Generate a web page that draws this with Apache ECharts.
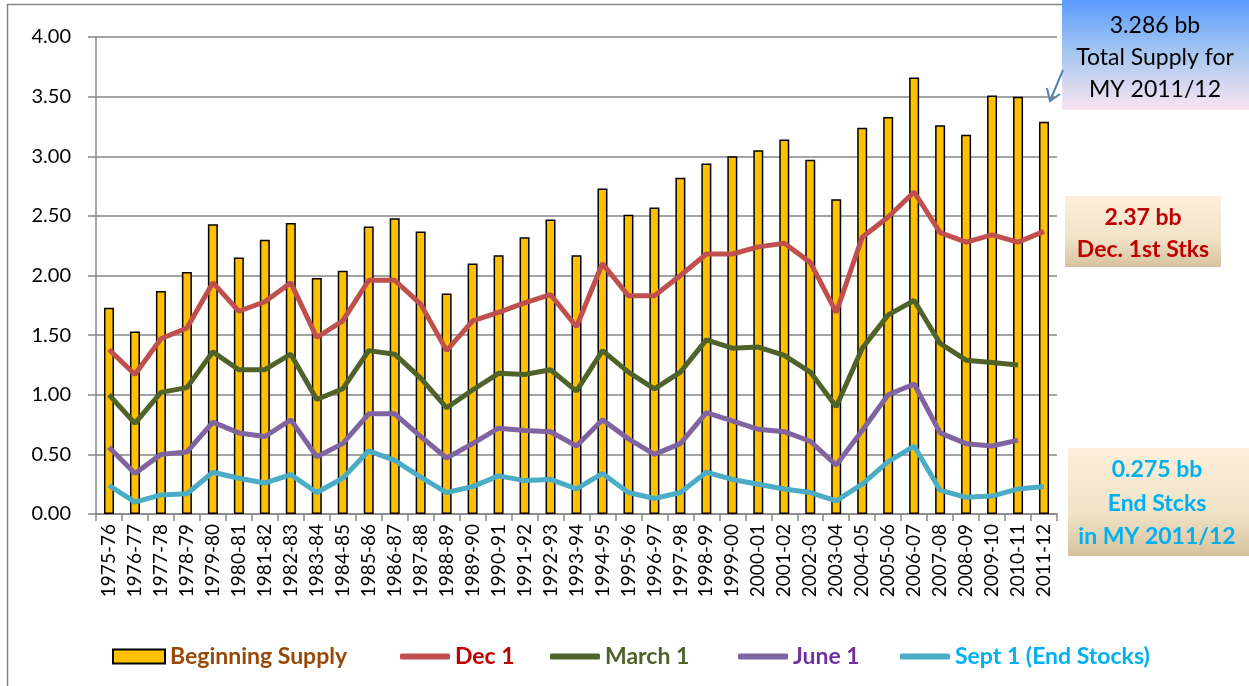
<!DOCTYPE html>
<html>
<head>
<meta charset="utf-8">
<script src="https://cdn.jsdelivr.net/npm/echarts@6/dist/echarts.min.js"></script>
<style>
html,body{margin:0;padding:0;background:#fff;}
#chart{width:1249px;height:686px;}
</style>
</head>
<body>
<div id="chart"></div>
<script>
var years = ['1975-76','1976-77','1977-78','1978-79','1979-80','1980-81','1981-82','1982-83','1983-84','1984-85',
  '1985-86','1986-87','1987-88','1988-89','1989-90','1990-91','1991-92','1992-93','1993-94','1994-95',
  '1995-96','1996-97','1997-98','1998-99','1999-00','2000-01','2001-02','2002-03','2003-04','2004-05',
  '2005-06','2006-07','2007-08','2008-09','2009-10','2010-11','2011-12'];

var beginSupply = [1.73,1.53,1.87,2.03,2.43,2.15,2.30,2.44,1.98,2.04,2.41,2.48,2.37,1.85,2.10,2.17,2.32,2.47,2.17,2.73,
  2.51,2.57,2.82,2.94,3.00,3.05,3.14,2.97,2.64,3.24,3.33,3.66,3.26,3.18,3.51,3.50,3.29];
var dec1 = [1.38,1.17,1.47,1.56,1.94,1.70,1.78,1.94,1.48,1.62,1.96,1.96,1.76,1.37,1.62,1.69,1.77,1.84,1.57,2.10,
  1.83,1.83,2.00,2.18,2.18,2.24,2.27,2.11,1.69,2.32,2.49,2.70,2.36,2.28,2.34,2.28,2.37];
var march1 = [1.00,0.76,1.02,1.06,1.36,1.21,1.21,1.34,0.96,1.05,1.37,1.34,1.14,0.89,1.04,1.18,1.17,1.21,1.03,1.37,
  1.19,1.05,1.19,1.46,1.39,1.40,1.33,1.19,0.90,1.39,1.67,1.79,1.43,1.29,1.27,1.25,null];
var june1 = [0.56,0.34,0.50,0.52,0.77,0.68,0.65,0.79,0.48,0.59,0.84,0.84,0.65,0.47,0.59,0.72,0.70,0.69,0.57,0.79,
  0.63,0.50,0.59,0.85,0.78,0.71,0.69,0.61,0.41,0.70,1.00,1.09,0.68,0.59,0.57,0.62,null];
var sept1 = [0.24,0.10,0.16,0.17,0.35,0.30,0.26,0.33,0.18,0.30,0.53,0.45,0.31,0.18,0.23,0.32,0.28,0.29,0.21,0.34,
  0.18,0.13,0.18,0.35,0.29,0.25,0.21,0.18,0.11,0.25,0.44,0.57,0.20,0.14,0.15,0.21,0.23];

var chart = echarts.init(document.getElementById('chart'));
var font = 'Lato, "Open Sans", sans-serif';

// one legend per item so each sits where it sits in the original
function legendItem(name, left, color, isLine) {
  return {
    left: left,
    top: 640,
    itemWidth: isLine ? 50 : 52,
    itemHeight: isLine ? 6 : 14,
    icon: isLine ? 'roundRect' : 'rect',
    selectedMode: false,
    textStyle: {fontFamily: font, fontSize: 23, fontWeight: 'bold', color: color},
    data: [name]
  };
}

var option = {
  backgroundColor: '#fff',
  animation: false,
  textStyle: {fontFamily: font},
  grid: {left: 96, right: 192, top: 37, bottom: 172},
  legend: [
    legendItem('Beginning Supply', 107, '#984807', false),
    legendItem('Dec 1', 395, '#C00000', true),
    legendItem('March 1', 545, '#4F6228', true),
    legendItem('June 1', 733, '#7030A0', true),
    legendItem('Sept 1 (End Stocks)', 895, '#00B0F0', true)
  ],
  xAxis: {
    type: 'category',
    data: years,
    boundaryGap: true,
    axisLine: {lineStyle: {color: '#868686', width: 1.5}},
    axisTick: {show: true, length: 7, lineStyle: {color: '#868686', width: 1.5}},
    axisLabel: {rotate: 90, interval: 0, color: '#000', fontSize: 19, margin: 10, fontFamily: font}
  },
  yAxis: {
    type: 'value',
    min: 0,
    max: 4,
    interval: 0.5,
    axisLine: {show: true, lineStyle: {color: '#868686', width: 1.5}},
    axisTick: {show: true, length: 8, lineStyle: {color: '#868686', width: 1.5}},
    axisLabel: {color: '#000', fontSize: 20, margin: 25, fontFamily: font,
      formatter: function (v) { return v.toFixed(2); }},
    splitLine: {lineStyle: {color: '#868686', width: 1.5}}
  },
  series: [
    {
      name: 'Beginning Supply',
      type: 'bar',
      data: beginSupply,
      barWidth: 10,
      itemStyle: {color: '#FFC000', borderColor: '#000', borderWidth: 1.5}
    },
    {name: 'Dec 1', type: 'line', data: dec1, symbol: 'none',
      lineStyle: {color: '#C0504D', width: 5}, itemStyle: {color: '#C0504D'}},
    {name: 'March 1', type: 'line', data: march1, symbol: 'none',
      lineStyle: {color: '#4F6228', width: 5}, itemStyle: {color: '#4F6228'}},
    {name: 'June 1', type: 'line', data: june1, symbol: 'none',
      lineStyle: {color: '#8064A2', width: 5}, itemStyle: {color: '#8064A2'}},
    {name: 'Sept 1 (End Stocks)', type: 'line', data: sept1, symbol: 'none',
      lineStyle: {color: '#4BACC6', width: 5}, itemStyle: {color: '#4BACC6'}}
  ],
  graphic: [
    // outer frame
    {type: 'rect', shape: {x: 7.5, y: 4.5, width: 1260, height: 700},
      style: {fill: 'none', stroke: '#868686', lineWidth: 1.5}, silent: true},
    // total supply box
    {type: 'rect', shape: {x: 1062, y: 0, width: 187, height: 110},
      style: {fill: new echarts.graphic.LinearGradient(0, 0, 0, 1, [
        {offset: 0, color: '#5B9CFF'}, {offset: 0.5, color: '#A9C8F0'}, {offset: 1, color: '#FBE4F2'}])}},
    {type: 'text', x: 1155, y: 26, style: {text: '3.286 bb', fill: '#000', font: '23px ' + font, align: 'center', verticalAlign: 'middle'}},
    {type: 'text', x: 1155, y: 58, style: {text: 'Total Supply for', fill: '#000', font: '23px ' + font, align: 'center', verticalAlign: 'middle'}},
    {type: 'text', x: 1155, y: 90, style: {text: 'MY 2011/12', fill: '#000', font: '23px ' + font, align: 'center', verticalAlign: 'middle'}},
    // arrow
    {type: 'polyline', shape: {points: [[1063, 70], [1050, 101]]}, style: {stroke: '#4F81BD', lineWidth: 2, fill: 'none'}},
    {type: 'polyline', shape: {points: [[1047, 88], [1050, 101], [1060, 94]]}, style: {stroke: '#4F81BD', lineWidth: 2, fill: 'none'}},
    // dec 1 box
    {type: 'rect', shape: {x: 1065, y: 196, width: 156, height: 71},
      style: {fill: new echarts.graphic.LinearGradient(0, 0, 0, 1, [
        {offset: 0, color: '#FDEFD9'}, {offset: 0.6, color: '#F1E3C8'}, {offset: 1, color: '#D7C29E'}])}},
    {type: 'text', x: 1143, y: 218, style: {text: '2.37 bb', fill: '#C00000', font: 'bold 23px ' + font, align: 'center', verticalAlign: 'middle'}},
    {type: 'text', x: 1143, y: 250, style: {text: 'Dec. 1st Stks', fill: '#C00000', font: 'bold 23px ' + font, align: 'center', verticalAlign: 'middle'}},
    // end stocks box
    {type: 'rect', shape: {x: 1068, y: 448, width: 181, height: 108},
      style: {fill: new echarts.graphic.LinearGradient(0, 0, 0, 1, [
        {offset: 0, color: '#FDEFD9'}, {offset: 0.6, color: '#F1E3C8'}, {offset: 1, color: '#D7C29E'}])}},
    {type: 'text', x: 1157, y: 470, style: {text: '0.275 bb', fill: '#00B0F0', font: 'bold 23px ' + font, align: 'center', verticalAlign: 'middle'}},
    {type: 'text', x: 1157, y: 504, style: {text: 'End Stcks', fill: '#00B0F0', font: 'bold 23px ' + font, align: 'center', verticalAlign: 'middle'}},
    {type: 'text', x: 1157, y: 537, style: {text: 'in MY 2011/12', fill: '#00B0F0', font: 'bold 23px ' + font, align: 'center', verticalAlign: 'middle'}}
  ]
};
chart.setOption(option);
</script>
</body>
</html>
